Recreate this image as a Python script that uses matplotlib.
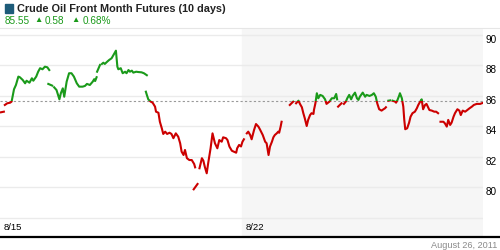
import matplotlib

matplotlib.use("Agg")

import matplotlib.pyplot as plt
from matplotlib.patches import Rectangle

plt.rcParams["font.family"] = ["Liberation Sans", "DejaVu Sans"]

# --- data (x = trading days since 8/15, price in USD) ---
session_days = [
    [0.02, 0.08],
    [0.10, 0.15, 0.21, 0.24, 0.26, 0.29, 0.33, 0.38, 0.41, 0.47, 0.52,
     0.55, 0.61, 0.66, 0.69, 0.75, 0.79, 0.83, 0.88, 0.93, 0.98, 1.02],
    [1.00, 1.08],
    [1.12, 1.17, 1.23, 1.26, 1.30, 1.33, 1.38, 1.43, 1.48, 1.53, 1.59,
     1.64, 1.71, 1.76, 1.80, 1.86, 1.92, 1.95, 1.97, 2.00],
    [2.01, 2.07],
    [2.11, 2.14, 2.17, 2.22, 2.26, 2.31, 2.35, 2.40, 2.43, 2.45, 2.50,
     2.54, 2.59, 2.62, 2.66, 2.69, 2.73, 2.76, 2.82, 2.86, 2.93, 2.98, 3.04],
    [3.02, 3.04, 3.07, 3.12, 3.16, 3.21, 3.23, 3.28, 3.31, 3.35, 3.38,
     3.42, 3.46, 3.51, 3.55, 3.59, 3.64, 3.69, 3.73, 3.76, 3.80, 3.83,
     3.87, 3.92, 3.97, 4.02, 4.04],
    [4.01, 4.09],
    [4.13, 4.18, 4.21, 4.24, 4.28, 4.31, 4.36, 4.40, 4.45, 4.50, 4.54,
     4.59, 4.62, 4.68, 4.71, 4.75, 4.80, 4.84, 4.89, 4.91, 4.95, 4.99,
     5.02, 5.05],
    [5.11, 5.14, 5.18, 5.21, 5.26, 5.30, 5.35, 5.38, 5.44, 5.49, 5.52,
     5.56, 5.59, 5.63, 5.66, 5.69, 5.73, 5.76, 5.78, 5.81, 5.83],
    [6.00, 6.07],
    [6.13, 6.18, 6.21, 6.25, 6.28, 6.31, 6.35, 6.38, 6.42, 6.45, 6.49,
     6.50, 6.53, 6.56, 6.59, 6.63, 6.68, 6.73, 6.76, 6.82, 6.87, 6.92,
     6.96, 6.98],
    [7.00, 7.07],
    [7.12, 7.16, 7.19, 7.23, 7.27, 7.30, 7.35, 7.39, 7.42, 7.45, 7.51,
     7.56, 7.59, 7.65, 7.70, 7.74, 7.78, 7.81, 7.85, 7.90, 7.94, 7.97, 7.99],
    [8.04, 8.08],
    [8.13, 8.18, 8.20, 8.23, 8.27, 8.28, 8.32, 8.35, 8.37, 8.39, 8.43,
     8.47, 8.50, 8.54, 8.59, 8.63, 8.66, 8.70, 8.73, 8.76, 8.80, 8.83,
     8.89, 8.94, 8.99, 9.03, 9.07],
    [9.12, 9.18, 9.21, 9.25, 9.28, 9.32, 9.35, 9.39, 9.42, 9.47, 9.51,
     9.54, 9.58, 9.63, 9.66, 9.72, 9.77, 9.81, 9.87, 9.94, 10.0],
]
session_prices = [
    [84.93, 84.97],
    [85.41, 85.52, 85.56, 85.63, 85.95, 86.44, 86.72, 87.27, 87.23, 87.05, 86.83,
     87.00, 86.87, 87.16, 87.00, 87.27, 87.59, 87.82, 87.75, 87.92, 87.88, 87.70],
    [86.79, 86.68],
    [86.57, 86.39, 85.78, 86.18, 86.50, 85.95, 86.94, 87.49, 87.49, 87.27, 86.83,
     86.61, 86.61, 86.66, 86.79, 86.72, 86.94, 87.10, 86.98, 87.23],
    [87.59, 88.03],
    [88.10, 88.18, 88.10, 88.25, 88.36, 88.47, 88.69, 88.97, 87.92, 87.75, 87.82,
     87.49, 87.59, 87.49, 87.70, 87.59, 87.66, 87.53, 87.59, 87.57, 87.55, 87.49, 87.36],
    [86.28, 86.07, 85.78, 85.63, 85.56, 85.30, 84.97, 84.90, 84.31, 83.88, 83.51,
     83.66, 83.51, 83.59, 83.51, 83.23, 83.55, 83.33, 82.90, 82.35, 82.13, 82.46,
     81.92, 81.80, 81.80, 81.54, 81.32],
    [79.88, 80.23],
    [81.26, 81.92, 81.76, 81.36, 80.93, 81.59, 82.57, 83.55, 82.90, 82.57, 83.11,
     83.00, 83.29, 83.23, 83.11, 82.68, 82.41, 82.35, 82.28, 82.57, 82.79, 82.69,
     83.00, 83.16],
    [83.55, 83.66, 83.44, 83.16, 83.77, 84.16, 83.99, 83.82, 83.44, 83.00, 82.90,
     82.13, 82.68, 83.00, 83.29, 83.44, 83.55, 83.66, 83.59, 83.99, 84.31],
    [85.41, 85.63],
    [85.52, 85.69, 85.48, 85.26, 84.87, 84.54, 84.03, 84.43, 84.75, 84.87, 84.82,
     85.08, 85.52, 86.18, 85.85, 86.07, 86.00, 85.78, 85.48, 85.63, 85.85, 85.85,
     86.13, 85.78],
    [85.30, 85.52],
    [85.48, 85.63, 85.85, 86.07, 85.78, 86.00, 86.22, 85.85, 85.74, 85.95, 86.22,
     85.95, 86.07, 86.00, 86.07, 86.18, 85.95, 85.52, 85.13, 85.04, 85.13, 85.19, 85.26],
    [85.69, 85.71],
    [85.69, 85.63, 85.56, 85.74, 86.07, 86.18, 85.85, 85.30, 84.43, 83.82, 83.88,
     84.25, 84.64, 84.87, 84.97, 85.19, 85.41, 85.63, 85.78, 85.13, 85.41, 85.48,
     85.08, 85.04, 84.97, 84.97, 84.87],
    [84.31, 84.31, 84.21, 83.99, 84.43, 84.10, 84.25, 84.64, 84.87, 85.13, 85.04,
     84.75, 85.04, 84.97, 85.04, 85.19, 85.30, 85.41, 85.48, 85.48, 85.55],
]

reference_price = 85.67
y_ticks = [80, 82, 84, 86, 88, 90]
grid_levels = [78, 80, 82, 84, 86, 88, 90]
x_ticks = [0, 5]
x_labels = ["8/15", "8/22"]

last_price = "85.55"
change = "0.58"
change_pct = "0.68%"

UP = "#1a9a1a"
DOWN = "#cc0000"

fig = plt.figure(figsize=(5, 2.5), dpi=100)
ax = fig.add_axes([0, 14 / 250, 483 / 500, 207 / 250])
ax.set_xlim(0, 10)
ax.set_ylim(76.82, 90.39)
ax.axis("off")

# second week shaded
ax.axvspan(5, 10, color="#f6f6f6", zorder=0)
for level in grid_levels:
    ax.axhline(level, color="#ebebeb", lw=1, zorder=1)
ax.axhline(reference_price, color="#999999", lw=0.8, ls=(0, (2, 2)), zorder=2)

above = Rectangle((0, reference_price), 10, 20, transform=ax.transData)
below = Rectangle((0, reference_price - 20), 10, 20, transform=ax.transData)
for days, prices in zip(session_days, session_prices):
    line_up, = ax.plot(days, prices, color=UP, lw=1.5, zorder=3,
                       solid_joinstyle="round")
    line_up.set_clip_path(above)
    line_dn, = ax.plot(days, prices, color=DOWN, lw=1.5, zorder=3,
                       solid_joinstyle="round")
    line_dn.set_clip_path(below)

# right-hand price labels, sitting a little below their grid line
for value in y_ticks:
    ax.annotate(str(value), xy=(1, value), xycoords=("axes fraction", "data"),
                xytext=(3, -5), textcoords="offset pixels",
                ha="left", va="center", fontsize=7.2, clip_on=False)

for pos, label in zip(x_ticks, x_labels):
    ax.annotate(label, xy=(pos, 0.043), xycoords=("data", "axes fraction"),
                xytext=(4, 0), textcoords="offset pixels",
                ha="left", va="center", fontsize=6.8)

# header
fig.patches.append(Rectangle((5 / 500, 1 - 13 / 250), 8 / 500, 9 / 250,
                             transform=fig.transFigure, color="#1d5b79"))
fig.text(17 / 500, 1 - 9 / 250, "Crude Oil Front Month Futures (10 days)",
         fontsize=7.8, fontweight="bold", color="#222222", va="center")
fig.text(5 / 500, 1 - 21 / 250, last_price, fontsize=7.2, color=UP, va="center")
fig.text(34 / 500, 1 - 21 / 250, "▲", fontsize=6, color=UP, va="center")
fig.text(45 / 500, 1 - 21 / 250, change, fontsize=7.2, color=UP, va="center")
fig.text(71 / 500, 1 - 21 / 250, "▲", fontsize=6, color=UP, va="center")
fig.text(83 / 500, 1 - 21 / 250, change_pct, fontsize=7.2, color=UP, va="center")
fig.add_artist(plt.Line2D([0, 1], [1 - 28 / 250] * 2, color="#e6e6e6", lw=0.8))

# footer
fig.add_artist(plt.Line2D([0, 1], [1 - 237 / 250] * 2, color="black", lw=1.6))
fig.text(497 / 500, 1 - 245 / 250, "August 26, 2011", fontsize=6.6,
         color="#8a8a8a", ha="right", va="center")

plt.savefig("out.png", dpi=100)
plt.close()
